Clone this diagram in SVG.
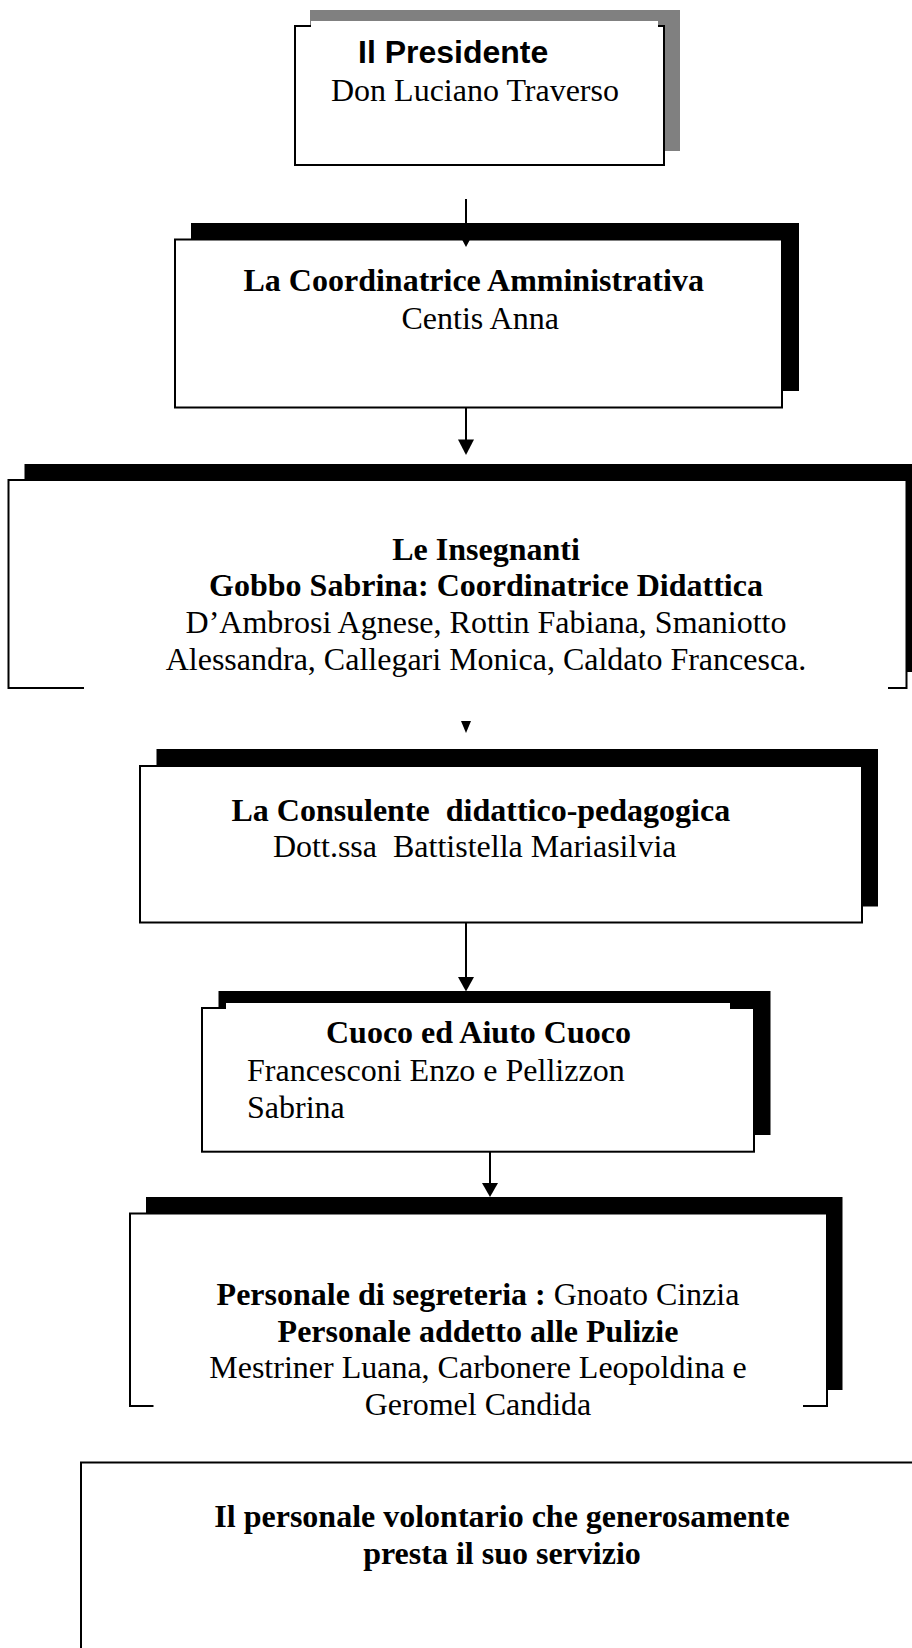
<svg xmlns="http://www.w3.org/2000/svg" width="912" height="1648" viewBox="0 0 912 1648">
<style>
.bg{fill:#ffffff}
.box{fill:#ffffff;stroke:#000000;stroke-width:2}
.fill{fill:#ffffff;stroke:none}
.edge{fill:none;stroke:#000000;stroke-width:2}
.shadow{fill:#000000}
.gray{fill:#808080}
.t{font-family:'Liberation Serif','Times New Roman',serif;font-size:32px;fill:#000000;white-space:pre}
.b{font-weight:bold}
.s{font-family:'Liberation Sans',Arial,sans-serif;font-size:32px;font-weight:bold;fill:#000000}
.m{text-anchor:middle}
.line{stroke:#000000;stroke-width:2;fill:none}
.head{fill:#000000}
</style>
<rect class="bg" x="0" y="0" width="912" height="1648"/>

<g id="presidente">
  <rect class="gray" x="310" y="10" width="370" height="141"/>
  <rect class="box" x="295" y="26" width="369" height="139"/>
  <rect class="fill" x="311" y="21" width="347" height="6"/>
  <text class="s" x="358" y="63">Il Presidente</text>
  <text class="t" x="331" y="101">Don Luciano Traverso</text>
</g>

<g id="coordinatrice">
  <rect class="shadow" x="191" y="223" width="608" height="168"/>
  <rect class="box" x="175" y="239.5" width="607" height="168"/>
  <text class="t b" x="243.5" y="291">La Coordinatrice Amministrativa</text>
  <text class="t" x="401.5" y="329">Centis Anna</text>
</g>

<g id="insegnanti">
  <rect class="shadow" x="24.5" y="464" width="900" height="208"/>
  <rect class="fill" x="8.5" y="480" width="898" height="208"/>
  <path class="edge" d="M84,688 H8.5 V480 H906.5 V688 H888"/>
  <text class="t b m" x="486" y="559.5">Le Insegnanti</text>
  <text class="t b m" x="486" y="596">Gobbo Sabrina: Coordinatrice Didattica</text>
  <text class="t m" x="486" y="633">D’Ambrosi Agnese, Rottin Fabiana, Smaniotto</text>
  <text class="t m" x="486" y="670">Alessandra, Callegari Monica, Caldato Francesca.</text>
</g>

<g id="consulente">
  <rect class="shadow" x="156.5" y="749" width="721.5" height="157.5"/>
  <rect class="box" x="140" y="766" width="722" height="156.5"/>
  <text class="t b" x="231.5" y="820.5">La Consulente  didattico-pedagogica</text>
  <text class="t" x="273" y="856.5">Dott.ssa  Battistella Mariasilvia</text>
</g>

<g id="cuoco">
  <rect class="shadow" x="218.5" y="991" width="552" height="144"/>
  <rect class="box" x="202" y="1008" width="552" height="143.7"/>
  <rect class="fill" x="226" y="1003" width="504" height="6"/>
  <text class="t b" x="326" y="1043">Cuoco ed Aiuto Cuoco</text>
  <text class="t" x="247" y="1081">Francesconi Enzo e Pellizzon</text>
  <text class="t" x="247" y="1118">Sabrina</text>
</g>

<g id="personale">
  <rect class="shadow" x="146" y="1197" width="696.5" height="193"/>
  <rect class="fill" x="130" y="1213.5" width="697" height="192.5"/>
  <path class="edge" d="M153.5,1406 H130 V1213.5 H827 V1406 H803"/>
  <text class="t m" x="478" y="1305"><tspan class="b">Personale di segreteria : </tspan>Gnoato Cinzia</text>
  <text class="t b m" x="478" y="1341.5">Personale addetto alle Pulizie</text>
  <text class="t m" x="478" y="1378">Mestriner Luana, Carbonere Leopoldina e</text>
  <text class="t m" x="478" y="1415">Geromel Candida</text>
</g>

<g id="volontario">
  <rect class="box" x="81" y="1462.5" width="860" height="220"/>
  <text class="t b m" x="502" y="1527">Il personale volontario che generosamente</text>
  <text class="t b m" x="502" y="1564">presta il suo servizio</text>
</g>

<g id="connectors">
  <line class="line" x1="466" y1="199" x2="466" y2="234"/>
  <polygon class="head" points="458,232 474,232 466,247"/>
  <line class="line" x1="466" y1="408" x2="466" y2="442"/>
  <polygon class="head" points="458,439.5 474,439.5 466,455"/>
  <polygon class="head" points="461,721 471,721 466,733"/>
  <line class="line" x1="466" y1="922.5" x2="466" y2="979"/>
  <polygon class="head" points="458,977 474,977 466,991.5"/>
  <line class="line" x1="490" y1="1151.7" x2="490" y2="1185"/>
  <polygon class="head" points="482,1183 498,1183 490,1197"/>
</g>
</svg>
